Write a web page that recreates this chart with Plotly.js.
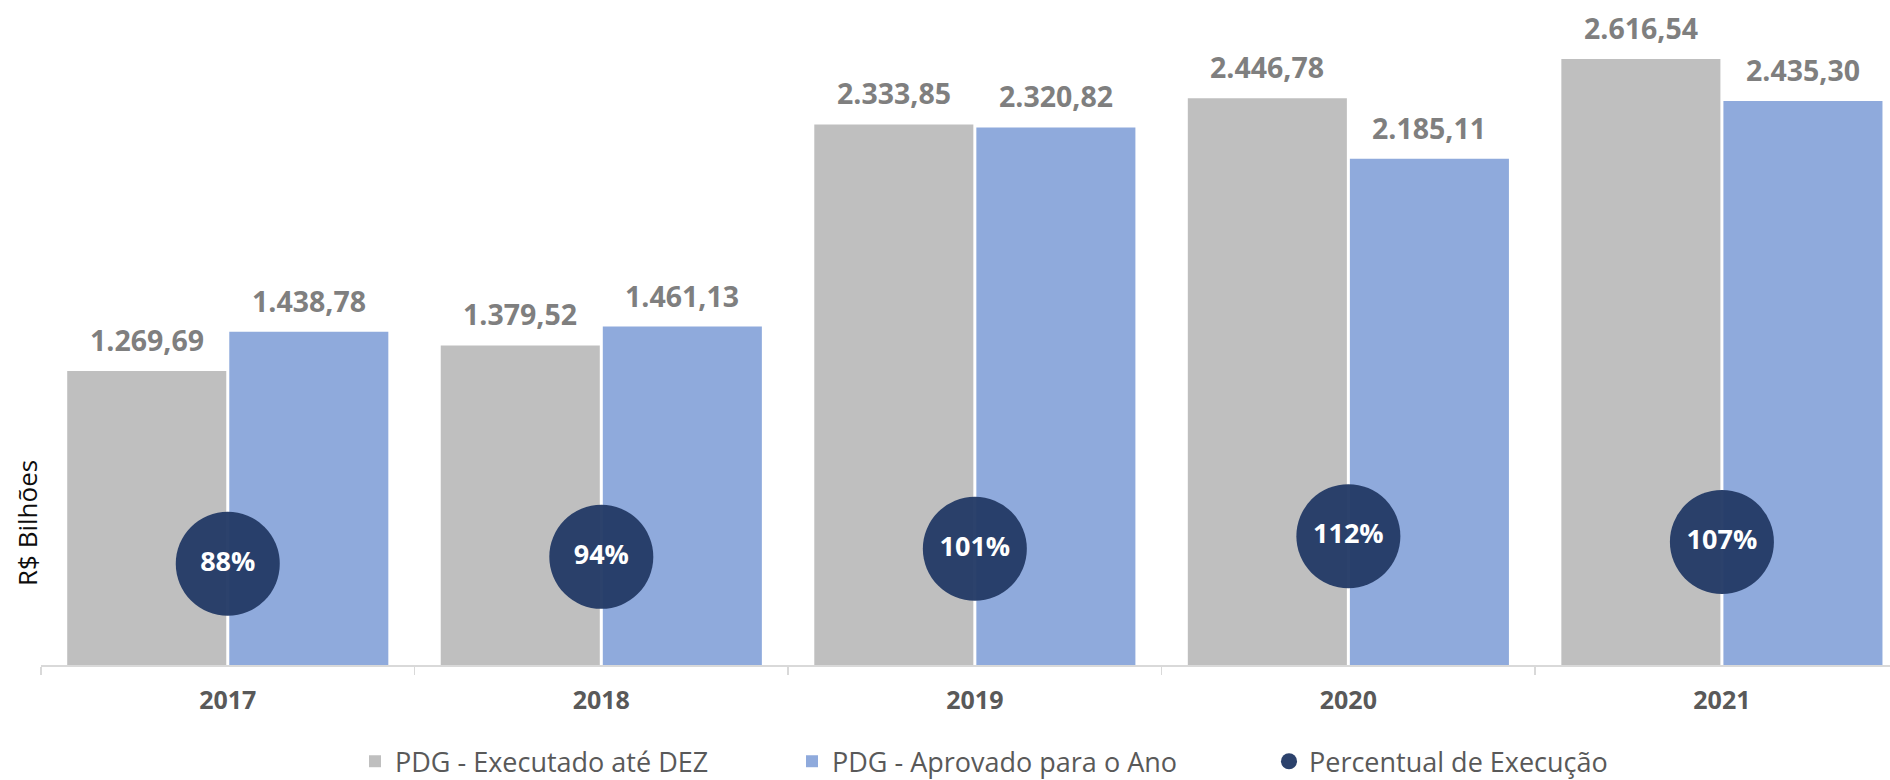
<!DOCTYPE html>
<html>
<head>
<meta charset="utf-8">
<script src="https://cdn.plot.ly/plotly-3.0.1.min.js"></script>
<style>html,body{margin:0;padding:0;background:#fff;}#chart{width:1890px;height:780px;}</style>
</head>
<body>
<div id="chart"></div>
<script>
const years = ['2017', '2018', '2019', '2020', '2021'];
const executado = [1269.69, 1379.52, 2333.85, 2446.78, 2616.54];
const aprovado = [1438.78, 1461.13, 2320.82, 2185.11, 2435.30];
const percentual = [88, 94, 101, 112, 107];
const seriesNames = ['PDG - Executado até DEZ', 'PDG - Aprovado para o Ano', 'Percentual de Execução'];
const yTitle = 'R$ Bilhões';

const FONT = 'Open Sans, Noto Sans, sans-serif';

function fmt(v) {
  const parts = v.toFixed(2).split('.');
  return parts[0].replace(/\B(?=(\d{3})+(?!\d))/g, '.') + ',' + parts[1];
}

const traces = [
  {
    type: 'bar', name: seriesNames[0], x: years, y: executado,
    marker: {color: '#bfbfbf'}, hoverinfo: 'skip', legend: 'legend'
  },
  {
    type: 'bar', name: seriesNames[1], x: years, y: aprovado,
    marker: {color: '#8faadc'}, hoverinfo: 'skip', legend: 'legend2'
  },
  {
    type: 'scatter', mode: 'markers+text', name: seriesNames[2], x: years, y: percentual,
    yaxis: 'y2',
    marker: {color: '#233a66', size: 104, opacity: 0.96},
    text: percentual.map(p => p + '%'),
    textposition: 'middle center',
    textfont: {family: FONT, size: 27, color: '#ffffff', weight: 'bold'},
    cliponaxis: false, hoverinfo: 'skip', legend: 'legend3'
  }
];

const labelFont = {family: FONT, size: 28.5, color: '#7f7f7f', weight: 'bold'};
const annotations = [];
years.forEach((yr, i) => {
  // category axes take the category index for annotation positions
  annotations.push({x: i, y: executado[i], xref: 'x', yref: 'y', text: fmt(executado[i]),
    showarrow: false, xshift: -81, yshift: 31, xanchor: 'center', yanchor: 'middle', font: labelFont});
  annotations.push({x: i, y: aprovado[i], xref: 'x', yref: 'y', text: fmt(aprovado[i]),
    showarrow: false, xshift: 81, yshift: 31, xanchor: 'center', yanchor: 'middle', font: labelFont});
});
annotations.push({
  xref: 'paper', yref: 'paper', x: -0.0076, y: 0.2135, text: yTitle, textangle: -90,
  showarrow: false, xanchor: 'center', yanchor: 'middle',
  font: {family: FONT, size: 26, color: '#0d0d0d'}
});

const legendBase = {
  orientation: 'h', xref: 'container', yref: 'container', yanchor: 'middle', xanchor: 'left',
  y: 0.0235, font: {family: FONT, size: 27, color: '#595959'}, bgcolor: 'rgba(0,0,0,0)', borderwidth: 0
};

const layout = {
  width: 1890, height: 780, autosize: false,
  margin: {l: 41, r: 0, t: 0, b: 115, pad: 0},
  paper_bgcolor: '#ffffff', plot_bgcolor: '#ffffff',
  barmode: 'group', bargap: 0.1323, bargroupgap: 0.0185,
  showlegend: true,
  xaxis: {
    type: 'category', range: [-0.5, 4.45], fixedrange: true,
    showline: true, linecolor: '#d9d9d9', linewidth: 2,
    ticks: 'outside', tickson: 'boundaries', ticklen: 8, tickcolor: '#d9d9d9', tickwidth: 1.5,
    ticklabelstandoff: 12,
    showgrid: false, zeroline: false,
    tickfont: {family: FONT, size: 25, color: '#595959', weight: 'bold'}
  },
  yaxis: {range: [0, 2871], visible: false, showgrid: false, zeroline: false, fixedrange: true},
  yaxis2: {range: [0, 578], overlaying: 'y', visible: false, showgrid: false, zeroline: false, fixedrange: true},
  legend: Object.assign({}, legendBase, {x: 355 / 1890}),
  legend2: Object.assign({}, legendBase, {x: 792 / 1890}),
  legend3: Object.assign({}, legendBase, {x: 1269 / 1890}),
  annotations: annotations
};

Plotly.newPlot('chart', traces, layout, {staticPlot: true, displayModeBar: false});
</script>
</body>
</html>
